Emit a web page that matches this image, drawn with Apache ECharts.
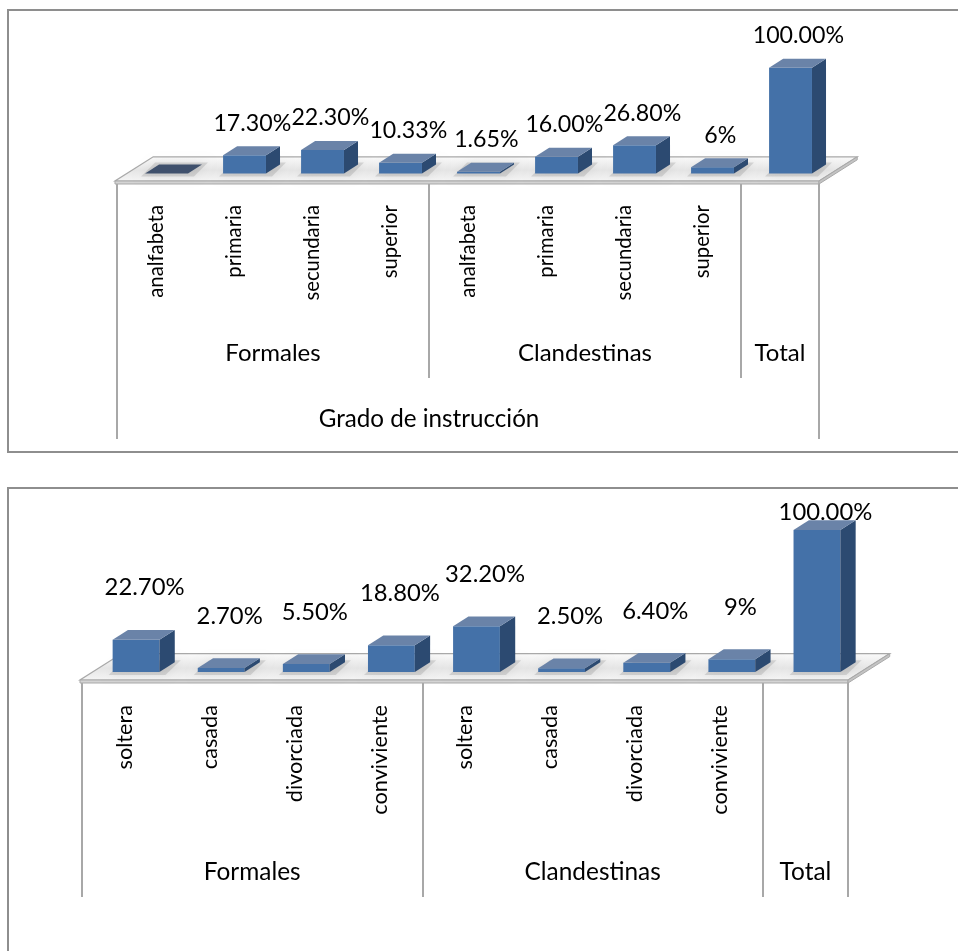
<!DOCTYPE html>
<html>
<head>
<meta charset="utf-8">
<script src="https://cdn.jsdelivr.net/npm/echarts@6/dist/echarts.min.js"></script>
<style>
  html, body { margin: 0; padding: 0; background: #ffffff; }
  #chart { width: 958px; height: 951px; }
</style>
</head>
<body>
<div id="chart"></div>
<script>
// Grado de instrucción (%)
const educCategories = ['analfabeta', 'primaria', 'secundaria', 'superior', 'analfabeta', 'primaria', 'secundaria', 'superior', ''];
const educValues = [0, 17.3, 22.3, 10.33, 1.65, 16.0, 26.8, 6, 100];
const educLabels = ['', '17.30%', '22.30%', '10.33%', '1.65%', '16.00%', '26.80%', '6%', '100.00%'];
const educTitle = 'Grado de instrucción';

// Estado civil (%)
const civilCategories = ['soltera', 'casada', 'divorciada', 'conviviente', 'soltera', 'casada', 'divorciada', 'conviviente', ''];
const civilValues = [22.7, 2.7, 5.5, 18.8, 32.2, 2.5, 6.4, 9, 100];
const civilLabels = ['22.70%', '2.70%', '5.50%', '18.80%', '32.20%', '2.50%', '6.40%', '9%', '100.00%'];

// Grupos del eje horizontal
const groupNames = ['Formales', 'Clandestinas', 'Total'];
const groupSizes = [4, 4, 1];

const FONT = 'Lato, "Open Sans", sans-serif';
const measureCtx = document.createElement('canvas').getContext('2d');
function fitSize(text, width) {
  measureCtx.font = '100px Lato';
  return +(100 * width / measureCtx.measureText(text).width).toFixed(1);
}

// group boundaries and centres on a 0..n scale
const groupBounds = [0];
groupSizes.forEach(s => groupBounds.push(groupBounds[groupBounds.length - 1] + s));
const groupCenters = groupSizes.map((s, i) => groupBounds[i] + s / 2);
const slotCount = groupBounds[groupBounds.length - 1];

const panels = [
  {
    cats: educCategories, values: educValues, labels: educLabels, title: educTitle,
    frameTop: 10, frameHeight: 442, grid: { left: 117, right: 139, top: 54, bottom: 770 }, yMax: 120,
    catSize: fitSize('analfabeta', 93), valSize: fitSize('17.30%', 78),
    groupSize: fitSize('Clandestinas', 134), titleSize: fitSize(educTitle, 221),
    catMargin: 24, groupMargin: 172, groupTick: 197, titleValue: 4, titleMargin: 238, titleTick: 258,
    labelGap: 32
  },
  {
    cats: civilCategories, values: civilValues, labels: civilLabels, title: null,
    frameTop: 488, frameHeight: 600, grid: { left: 82, right: 110, top: 538, bottom: 271 }, yMax: 100,
    catSize: fitSize('conviviente', 110), valSize: fitSize('22.70%', 80),
    groupSize: fitSize('Clandestinas', 136),
    catMargin: 25, groupMargin: 192, groupTick: 217,
    labelGap: 52
  }
];

const COLORS = {
  front: '#4471a8',
  side: '#2c4a71',
  top: '#6a83a8',
  flat: '#3f506c',
  line: '#8c8c8c',
  text: '#000000'
};

const grids = [], xAxes = [], yAxes = [], series = [];

panels.forEach((p, pi) => {
  grids.push(Object.assign({ containLabel: false, outerBoundsMode: 'none' }, p.grid));
  yAxes.push({ type: 'value', gridIndex: pi, min: 0, max: p.yMax, show: false });

  const catIndex = xAxes.length;
  xAxes.push({
    type: 'category', gridIndex: pi, position: 'bottom', offset: 0, data: p.cats, boundaryGap: true,
    axisLine: { show: false }, axisTick: { show: false }, splitLine: { show: false },
    axisLabel: {
      interval: 0, rotate: 90, margin: p.catMargin,
      color: COLORS.text, fontFamily: FONT, fontSize: p.catSize
    }
  });
  // group level (Formales / Clandestinas / Total)
  xAxes.push({
    type: 'value', gridIndex: pi, position: 'bottom', offset: 0, min: 0, max: slotCount,
    axisLine: { show: false }, splitLine: { show: false },
    axisTick: {
      show: true, inside: false, length: p.groupTick, customValues: groupBounds,
      lineStyle: { color: COLORS.line, width: 1.5 }
    },
    axisLabel: {
      customValues: groupCenters, margin: p.groupMargin, verticalAlign: 'middle',
      color: COLORS.text, fontFamily: FONT, fontSize: p.groupSize,
      formatter: v => groupNames[groupCenters.indexOf(v)] || ''
    }
  });
  if (p.title) {
    xAxes.push({
      type: 'value', gridIndex: pi, position: 'bottom', offset: 0, min: 0, max: slotCount,
      axisLine: { show: false }, splitLine: { show: false },
      axisTick: {
        show: true, inside: false, length: p.titleTick, customValues: [0, slotCount],
        lineStyle: { color: COLORS.line, width: 1.5 }
      },
      axisLabel: {
        customValues: [p.titleValue], margin: p.titleMargin, verticalAlign: 'middle',
        color: COLORS.text, fontFamily: FONT, fontSize: p.titleSize,
        formatter: () => p.title
      }
    });
  }

  // floor of the 3D plot
  series.push({
    type: 'custom', xAxisIndex: catIndex, yAxisIndex: pi, clip: false, z: 1, silent: true,
    data: [[0, 0]],
    renderItem: (params) => {
      const cs = params.coordSys;
      const slot = cs.width / slotCount;
      const dx = slot * 0.49, dy = slot * 0.31;
      const fy = cs.y + cs.height, lx = cs.x - 2, rx = cs.x + cs.width;
      return {
        type: 'group',
        children: [
          {
            type: 'polygon',
            shape: { points: [[lx, fy], [rx, fy], [rx + dx, fy - dy], [lx + dx, fy - dy]] },
            style: {
              fill: new echarts.graphic.LinearGradient(0, 0, 0, 1, [
                { offset: 0, color: '#fbfbfb' }, { offset: 0.55, color: '#e6e6e6' }, { offset: 1, color: '#f6f6f6' }
              ]),
              stroke: '#a9a9a9', lineWidth: 1.2
            }
          },
          {
            type: 'polygon',
            shape: { points: [[lx, fy], [rx, fy], [rx, fy + 3], [lx, fy + 3]] },
            style: { fill: '#d4d4d4', stroke: '#a9a9a9', lineWidth: 1 }
          },
          {
            type: 'polygon',
            shape: { points: [[rx, fy], [rx + dx, fy - dy], [rx + dx, fy - dy + 3], [rx, fy + 3]] },
            style: { fill: '#c4c4c4', stroke: '#a9a9a9', lineWidth: 1 }
          }
        ]
      };
    }
  });

  // 3D columns with value labels
  series.push({
    type: 'custom', xAxisIndex: catIndex, yAxisIndex: pi, clip: false, z: 2, silent: true,
    data: p.values.map((v, i) => [i, v]),
    encode: { x: 0, y: 1 },
    renderItem: (params, api) => {
      const idx = api.value(0), val = api.value(1);
      const base = api.coord([idx, 0]);
      const top = api.coord([idx, val]);
      const slot = api.size([1, 0])[0];
      const w = slot * 0.55, dx = slot * 0.18, dy = slot * 0.115;
      const cx = base[0] + slot * 0.135;
      const by = base[1] - slot * 0.095;
      const h = base[1] - top[1];
      const x0 = cx - w / 2, x1 = cx + w / 2, ty = by - h;
      const children = [
        {
          type: 'polygon',
          shape: { points: [[x0 - 4, by + 3], [x1 + 6, by + 3], [x1 + dx + 6, by - dy - 2], [x0 + dx - 4, by - dy - 2]] },
          style: { fill: 'rgba(90,90,90,0.18)', shadowBlur: 10, shadowColor: 'rgba(0,0,0,0.35)' }
        }
      ];
      if (h > 0.5) {
        children.push(
          { type: 'rect', shape: { x: x0, y: ty, width: w, height: h }, style: { fill: COLORS.front } },
          { type: 'polygon', shape: { points: [[x1, by], [x1, ty], [x1 + dx, ty - dy], [x1 + dx, by - dy]] }, style: { fill: COLORS.side } }
        );
      }
      children.push({
        type: 'polygon',
        shape: { points: [[x0, ty], [x1, ty], [x1 + dx, ty - dy], [x0 + dx, ty - dy]] },
        style: { fill: h > 0.5 ? COLORS.top : COLORS.flat }
      });
      const text = p.labels[params.dataIndex];
      if (text) {
        children.push({
          type: 'text',
          x: cx + slot * 0.1,
          y: Math.max(ty - p.labelGap, p.frameTop + 24),
          style: {
            text: text, fill: COLORS.text, fontFamily: FONT, fontSize: p.valSize,
            align: 'center', verticalAlign: 'middle'
          }
        });
      }
      return { type: 'group', children: children };
    }
  });
});

const chart = echarts.init(document.getElementById('chart'), null, { renderer: 'canvas' });
chart.setOption({
  backgroundColor: '#ffffff',
  animation: false,
  grid: grids,
  xAxis: xAxes,
  yAxis: yAxes,
  series: series,
  graphic: panels.map(p => ({
    type: 'rect', silent: true, z: 0,
    shape: { x: 8, y: p.frameTop, width: 1000, height: p.frameHeight },
    style: { fill: 'none', stroke: '#8e8e8e', lineWidth: 2 }
  }))
});
</script>
</body>
</html>
